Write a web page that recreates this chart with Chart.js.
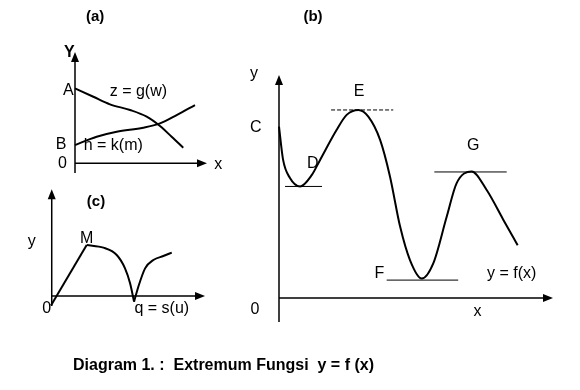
<!DOCTYPE html>
<html>
<head>
<meta charset="utf-8">
<script src="https://cdn.jsdelivr.net/npm/chart.js@4.4.1/dist/chart.umd.min.js"></script>
<style>
  html, body { margin: 0; background: #fff; }
  #stage { position: relative; width: 580px; height: 390px; }
  #stage canvas { position: absolute; left: 0; top: 0; }
  #caption {
    position: absolute; left: 73px; top: 356px;
    font: bold 16px "Liberation Sans", Arial, sans-serif;
    white-space: pre; color: #000;
  }
</style>
</head>
<body>
<div id="stage">
  <canvas id="chartA" width="580" height="390"></canvas>
  <canvas id="chartB" width="580" height="390"></canvas>
  <canvas id="chartC" width="580" height="390"></canvas>
  <div id="caption">Diagram 1. :  Extremum Fungsi  y = f (x)</div>
</div>
<script>
// (a) z = g(w) falls, h = k(m) rises, they cross
const gW = [0, 1.39, 2.65, 4.17, 5.43, 6.44, 7.32, 8.20];
const gZ = [6.73, 5.98, 5.30, 4.79, 4.19, 3.35, 2.39, 1.40];
const kM = [0, 1.64, 3.16, 5.17, 6.44, 7.70, 9.09];
const kH = [1.64, 2.39, 2.84, 3.20, 3.59, 4.34, 5.24];
const labelsA = [['Y', -0.43, 9.91, true], ['A', -0.51, 6.58], ['B', -1.06, 1.65], ['0', -0.96, 0],
  ['x', 10.86, -0.15], ['z = g(w)', 4.8, 6.44], ['h = k(m)', 2.90, 1.58]];

// (b) y = f(x) with extremes C, D, E, F, G
const fX = [0, 0.15, 0.40, 0.77, 1.20, 1.50, 2.10, 2.47, 2.90, 3.26, 3.69, 4.05, 4.42, 4.78, 5.21, 5.63, 6.12, 6.48, 7.03, 7.58, 8.19, 8.71];
const fY = [7.68, 6.19, 5.38, 5.00, 5.52, 6.19, 7.53, 8.21, 8.43, 8.13, 7.09, 5.45, 3.20, 1.70, 0.87, 1.55, 3.64, 5.14, 5.67, 4.84, 3.50, 2.36];
// horizontal tangents at D, E (dashed), F, G
const tanX = [[0.22, 1.57], [1.90, 4.17], [3.93, 6.54], [5.67, 8.31]];
const tanY = [5.00, 8.43, 0.80, 5.65];
const labelsB = [['y', -0.91, 10.08], ['C', -0.85, 7.65], ['E', 2.92, 9.25], ['D', 1.23, 6.01],
  ['G', 7.09, 6.81], ['F', 3.66, 1.08], ['y = f(x)', 8.49, 1.08], ['0', -0.88, -0.54], ['x', 7.24, -0.6]];

// (c) q = s(u): straight rise to M, then a cusp on the axis
const sU1 = [-0.05, 2.28];
const sQ1 = [-0.90, 4.78];
const sU2 = [2.28, 3.37, 4.24, 4.78, 5.11, 5.37];
const sQ2 = [4.78, 4.53, 3.84, 2.59, 1.19, -0.53];
const sU3 = [5.37, 5.65, 6.09, 6.63, 7.28, 7.83];
const sQ3 = [-0.53, 0.87, 2.59, 3.37, 3.75, 4.06];
const labelsC = [['y', -1.30, 5.09], ['M', 2.28, 5.41], ['0', -0.33, -1.16], ['q = s(u)', 7.18, -1.16]];

const FONT = '"Liberation Sans", Arial, sans-serif';

const pts = (xs, ys) => xs.map((x, i) => ({ x, y: ys[i] }));

const curve = (xs, ys) => ({
  data: pts(xs, ys),
  showLine: true,
  borderColor: '#000',
  borderWidth: 2,
  pointRadius: 0,
  cubicInterpolationMode: 'monotone',
  fill: false,
});

const tangent = (xs, y, dashed) => ({
  data: xs.map(x => ({ x, y })),
  showLine: true,
  borderColor: '#000',
  borderWidth: 1,
  borderDash: dashed ? [4, 2] : [],
  pointRadius: 0,
  fill: false,
});

// axes with arrowheads plus text labels, placed through the chart's scales
const sketchPlugin = {
  id: 'sketch',
  beforeDatasetsDraw(chart, args, opts) {
    const { ctx, scales: { x, y } } = chart;
    const x0 = x.getPixelForValue(0), y0 = y.getPixelForValue(0);
    const xEnd = x.getPixelForValue(opts.xEnd);
    const yTop = y.getPixelForValue(opts.yTop);
    const yBot = y.getPixelForValue(opts.yBottom);
    ctx.save();
    ctx.strokeStyle = '#000';
    ctx.fillStyle = '#000';
    ctx.lineWidth = 1.5;
    ctx.beginPath();
    ctx.moveTo(x0, yBot); ctx.lineTo(x0, yTop + 6);
    ctx.moveTo(x0, y0); ctx.lineTo(xEnd - 6, y0);
    ctx.stroke();
    ctx.beginPath();
    ctx.moveTo(x0, yTop); ctx.lineTo(x0 - 4, yTop + 10); ctx.lineTo(x0 + 4, yTop + 10); ctx.closePath();
    ctx.moveTo(xEnd, y0); ctx.lineTo(xEnd - 10, y0 - 4); ctx.lineTo(xEnd - 10, y0 + 4); ctx.closePath();
    ctx.fill();
    ctx.restore();
  },
  afterDraw(chart, args, opts) {
    const { ctx, scales: { x, y } } = chart;
    ctx.save();
    ctx.fillStyle = '#000';
    ctx.textAlign = 'center';
    ctx.textBaseline = 'middle';
    for (const [text, lx, ly, bold] of opts.labels) {
      ctx.font = (bold ? 'bold ' : '') + '16px ' + FONT;
      ctx.fillText(text, x.getPixelForValue(lx), y.getPixelForValue(ly));
    }
    ctx.font = 'bold 15px ' + FONT;
    const [t, tx, ty] = opts.title;
    ctx.fillText(t, x.getPixelForValue(tx), y.getPixelForValue(ty));
    ctx.restore();
  },
};

function makeChart(id, datasets, padding, sketch) {
  return new Chart(document.getElementById(id), {
    type: 'scatter',
    data: { datasets },
    plugins: [sketchPlugin],
    options: {
      responsive: false,
      animation: false,
      events: [],
      layout: { padding },
      scales: {
        x: { type: 'linear', min: -1, max: 10.5, display: false },
        y: { type: 'linear', min: -1.2, max: 10.2, display: false },
      },
      plugins: {
        legend: { display: false },
        tooltip: { enabled: false },
        sketch,
      },
    },
  });
}

makeChart('chartA',
  [curve(gW, gZ), curve(kM, kH)],
  { left: 61.8, top: 49.8, right: 366.4, bottom: 213.3 },
  { xEnd: 10, yTop: 10, yBottom: -0.87, labels: labelsA, title: ['(a)', 1.52, 13.17] });

makeChart('chartB',
  [curve(fX, fY), ...tanX.map((xs, i) => tangent(xs, tanY[i], i === 1))],
  { left: 251.6, top: 70.5, right: 13.3, bottom: 65.3 },
  { xEnd: 10, yTop: 10, yBottom: -1.08, labels: labelsB, title: ['(b)', 1.24, 12.6] });

makeChart('chartC',
  [
    { ...curve(sU1, sQ1), cubicInterpolationMode: 'default', tension: 0 },
    curve(sU2, sQ2),
    curve(sU3, sQ3),
  ],
  { left: 36.4, top: 187.2, right: 367.3, bottom: 81.2 },
  { xEnd: 10, yTop: 10, yBottom: -0.94, labels: labelsC, title: ['(c)', 2.89, 8.84] });
</script>
</body>
</html>
